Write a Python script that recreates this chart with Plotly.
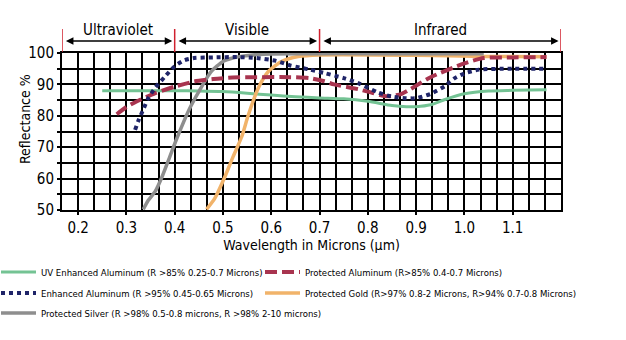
import plotly.graph_objects as go

# ---------------- data ----------------
uv_x = [0.25, 0.30, 0.35, 0.40, 0.45, 0.50, 0.55, 0.60, 0.65, 0.70, 0.75, 0.80, 0.85, 0.88, 0.90, 0.93, 0.96, 1.00, 1.05, 1.10, 1.17]
uv_y = [88.0, 88.0, 88.0, 88.0, 87.9, 87.7, 87.2, 86.6, 86.1, 85.7, 85.4, 84.6, 83.3, 82.9, 82.9, 83.5, 85.2, 87.0, 87.9, 88.1, 88.3]

pal_x = [0.28, 0.30, 0.32, 0.36, 0.40, 0.44, 0.48, 0.52, 0.57, 0.64, 0.68, 0.71, 0.73, 0.78, 0.80, 0.84, 0.87, 0.93, 1.00, 1.04, 1.10, 1.17]
pal_y = [80.5, 82.8, 84.5, 87.2, 89.3, 90.9, 91.7, 92.2, 92.3, 92.3, 92.0, 91.0, 90.0, 88.5, 87.7, 86.2, 87.0, 92.3, 96.7, 98.4, 98.6, 98.7]

eal_x = [0.318, 0.325, 0.335, 0.345, 0.36, 0.38, 0.40, 0.42, 0.44, 0.48, 0.53, 0.57, 0.61, 0.64, 0.68, 0.71, 0.75, 0.78, 0.82, 0.85, 0.88, 0.90, 0.93, 0.96, 0.98, 1.00, 1.03, 1.10, 1.17]
eal_y = [75.5, 78.5, 82.0, 85.5, 89.0, 92.5, 95.8, 97.7, 98.4, 98.6, 98.7, 98.4, 97.5, 96.0, 94.7, 93.6, 92.0, 90.4, 87.5, 86.1, 85.6, 85.6, 87.0, 89.5, 92.0, 93.5, 94.7, 95.0, 95.0]

gold_x = [0.466, 0.483, 0.504, 0.521, 0.539, 0.552, 0.573, 0.594, 0.621, 0.656, 0.70, 0.90, 1.04, 1.17]
gold_y = [50.2, 53.7, 60.6, 67.0, 73.4, 80.0, 88.8, 94.1, 97.3, 98.9, 99.4, 99.3, 98.9, 98.8]

silver_x = [0.335, 0.345, 0.36, 0.375, 0.39, 0.405, 0.43, 0.45, 0.475, 0.50, 0.52, 0.54, 0.57, 0.60, 0.70, 0.80, 0.90, 1.04]
silver_y = [50.2, 53.0, 56.0, 61.0, 67.0, 73.0, 82.0, 87.7, 94.0, 97.3, 98.4, 99.0, 99.5, 99.7, 99.8, 99.8, 99.8, 99.8]

names = [
    "UV Enhanced Aluminum (R >85% 0.25-0.7 Microns)",
    "Protected Aluminum (R>85% 0.4-0.7 Microns)",
    "Enhanced Aluminum (R >95% 0.45-0.65 Microns)",
    "Protected Gold (R>97% 0.8-2 Microns, R>94% 0.7-0.8 Microns)",
    "Protected Silver (R >98% 0.5-0.8 microns, R >98% 2-10 microns)",
]

x_tickvals = [0.2, 0.3, 0.4, 0.5, 0.6, 0.7, 0.8, 0.9, 1.0, 1.1]
x_ticktext = ["0.2", "0.3", "0.4", "0.5", "0.6", "0.7", "0.8", "0.9", "1.0", "1.1"]
y_tickvals = [50, 60, 70, 80, 90, 100]
y_ticktext = ["50", "60", "70", "80", "90", "100"]

regions = ["Ultraviolet", "Visible", "Infrared"]
region_bounds = [1/6, 0.4, 0.7, 1.2]

FONT = "Liberation Sans Narrow, DejaVu Sans Condensed, Arial Narrow, Roboto, sans-serif"

# styles (order matches names)
colors = ["#74c394", "#a8344f", "#1f2468", "#f1b36a", "#8e8e8e"]
widths = [3, 4, 4, 3.5, 3.5]
dashes = ["solid", "12px,5px", "4px,4px", "solid", "solid"]
series_x = [uv_x, pal_x, eal_x, gold_x, silver_x]
series_y = [uv_y, pal_y, eal_y, gold_y, silver_y]
draw_order = [0, 3, 4, 1, 2]

fig = go.Figure()
for i in draw_order:
    fig.add_trace(go.Scatter(x=series_x[i], y=series_y[i], name=names[i], mode="lines",
                             showlegend=False,
                             line=dict(color=colors[i], width=widths[i], dash=dashes[i],
                                       shape="spline", smoothing=0.6)))

# plot-area geometry in pixels (for placing decorations outside the axes)
W, H = 626, 340
ML, MR, MT, MB = 62, 65, 53, 130
PW, PH = W - ML - MR, H - MT - MB


def px_x(px):
    return (px - ML) / PW


def px_y(py):
    return (H - MB - py) / PH


# region markers above the plot
for b in region_bounds:
    fig.add_shape(type="line", xref="x", yref="paper", x0=b, x1=b, y0=px_y(52), y1=px_y(29),
                  line=dict(color="#d0202e", width=1.5), layer="above")
for i, r in enumerate(regions):
    a, b = region_bounds[i], region_bounds[i + 1]
    fig.add_annotation(x=b - 0.005, y=px_y(41), xref="x", yref="paper",
                       ax=a + 0.005, ay=0, axref="x", ayref="pixel",
                       showarrow=True, arrowhead=2, arrowside="end+start",
                       arrowsize=1, arrowwidth=1.5, arrowcolor="black", text="")
    fig.add_annotation(x=(a + b) / 2, y=px_y(30), xref="x", yref="paper", text=r,
                       xanchor="center", yanchor="middle",
                       showarrow=False, font=dict(family=FONT, size=15, color="black"))

# y-axis title
fig.add_annotation(x=px_x(25), y=px_y(119), xref="paper", yref="paper", text="Reflectance %",
                   xanchor="center", yanchor="middle",
                   textangle=-90, showarrow=False, font=dict(family=FONT, size=14, color="black"))

# legend (two columns, drawn below the chart)
legend_slots = [(0, 272), (264, 272), (0, 293), (264, 293), (0, 313)]  # (sample left px, row center px)
for i, (lx, ly) in enumerate(legend_slots):
    fig.add_shape(type="line", xref="paper", yref="paper",
                  x0=px_x(lx + 1), x1=px_x(lx + 36), y0=px_y(ly), y1=px_y(ly),
                  line=dict(color=colors[i], width=widths[i], dash=dashes[i]))
    fig.add_annotation(x=px_x(lx + 39), y=px_y(ly), xref="paper", yref="paper",
                       text=names[i], xanchor="left", yanchor="middle", showarrow=False,
                       font=dict(family=FONT, size=9.5, color="black"))

fig.update_layout(
    width=W, height=H,
    margin=dict(l=ML, r=MR, t=MT, b=MB),
    paper_bgcolor="white", plot_bgcolor="white",
    font=dict(family=FONT, color="black"),
    showlegend=False,
    xaxis=dict(range=[1/6, 1.2], tickmode="array", tickvals=x_tickvals, ticktext=x_ticktext,
               showgrid=True, gridcolor="black", gridwidth=2,
               showline=True, linecolor="black", linewidth=2, mirror=True,
               ticks="outside", ticklen=3, tickwidth=2, tickcolor="black",
               tickfont=dict(family=FONT, size=15), zeroline=False,
               minor=dict(tickmode="linear", tick0=0.2, dtick=1/30, showgrid=True,
                          gridcolor="black", gridwidth=2),
               title=dict(text="Wavelength in Microns (µm)", font=dict(family=FONT, size=14), standoff=4)),
    yaxis=dict(range=[50, 100], tickmode="array", tickvals=y_tickvals, ticktext=y_ticktext,
               showgrid=True, gridcolor="black", gridwidth=2,
               showline=True, linecolor="black", linewidth=2, mirror=True,
               ticks="outside", ticklen=3, tickwidth=2, tickcolor="black",
               tickfont=dict(family=FONT, size=15), zeroline=False,
               minor=dict(tickmode="linear", tick0=50, dtick=5, showgrid=True,
                          gridcolor="black", gridwidth=2, ticks="outside", ticklen=3)),
)

fig.write_html("out.html")
